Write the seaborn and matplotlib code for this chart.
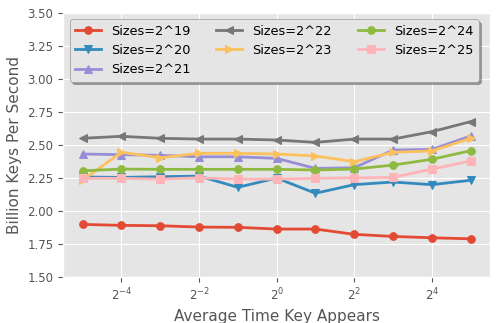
import numpy as np
import pandas as pd
import matplotlib
matplotlib.use("Agg")
import matplotlib.pyplot as plt
import seaborn as sns

x_exponents = [-5, -4, -3, -2, -1, 0, 1, 2, 3, 4, 5]
labels = ["Sizes=2^19", "Sizes=2^20", "Sizes=2^21", "Sizes=2^22",
          "Sizes=2^23", "Sizes=2^24", "Sizes=2^25"]
s19 = [1.899, 1.892, 1.889, 1.879, 1.877, 1.864, 1.864, 1.824, 1.808, 1.798, 1.790]
s20 = [2.258, 2.255, 2.260, 2.265, 2.180, 2.250, 2.135, 2.200, 2.220, 2.200, 2.233]
s21 = [2.432, 2.427, 2.422, 2.411, 2.411, 2.399, 2.323, 2.328, 2.462, 2.467, 2.568]
s22 = [2.551, 2.566, 2.551, 2.545, 2.545, 2.538, 2.520, 2.545, 2.545, 2.601, 2.677]
s23 = [2.235, 2.445, 2.404, 2.437, 2.437, 2.432, 2.417, 2.374, 2.445, 2.455, 2.551]
s24 = [2.305, 2.318, 2.316, 2.316, 2.316, 2.316, 2.311, 2.318, 2.348, 2.392, 2.457]
s25 = [2.248, 2.248, 2.242, 2.252, 2.242, 2.242, 2.248, 2.252, 2.255, 2.318, 2.379]
series = [s19, s20, s21, s22, s23, s24, s25]

colors = ["#E24A33", "#348ABD", "#988ED5", "#777777", "#FBC15E", "#8EBA42", "#FFB5B8"]
markers = ["o", "v", "^", "<", ">", "o", "s"]

plt.style.use("ggplot")
fig, ax = plt.subplots(figsize=(4.98, 3.23), dpi=100)
ax.set_xscale("log", base=2)

xs = [2.0 ** e for e in x_exponents]
for vals, lab, c, m in zip(series, labels, colors, markers):
    df = pd.DataFrame({"x": xs, "y": vals})
    sns.lineplot(data=df, x="x", y="y", ax=ax, color=c, marker=m, markersize=5.5,
                 markeredgecolor=c, linewidth=2, label=lab, legend=False)

ax.set_ylim(1.5, 3.5)
ax.set_yticks([1.5, 1.75, 2.0, 2.25, 2.5, 2.75, 3.0, 3.25, 3.5])
ax.set_yticklabels(["1.50", "1.75", "2.00", "2.25", "2.50", "2.75", "3.00", "3.25", "3.50"])
ticks_e = [-4, -2, 0, 2, 4]
ax.set_xticks([2.0 ** e for e in ticks_e])
ax.set_xticklabels([r"$2^{%d}$" % e for e in ticks_e])
ax.minorticks_off()
ax.set_xlim(2.0 ** -5.5, 2.0 ** 5.5)
ax.tick_params(labelsize=8.5)
ax.set_xlabel("Average Time Key Appears", fontsize=11)
ax.set_ylabel("Billion Keys Per Second", fontsize=11)

leg = ax.legend(loc="upper left", ncol=3, shadow=True, fontsize=9.3, frameon=True,
                columnspacing=2.0)
leg.get_frame().set_edgecolor("#999999")

fig.subplots_adjust(left=0.127, right=0.984, top=0.96, bottom=0.142)
fig.savefig("out.png", dpi=100)
